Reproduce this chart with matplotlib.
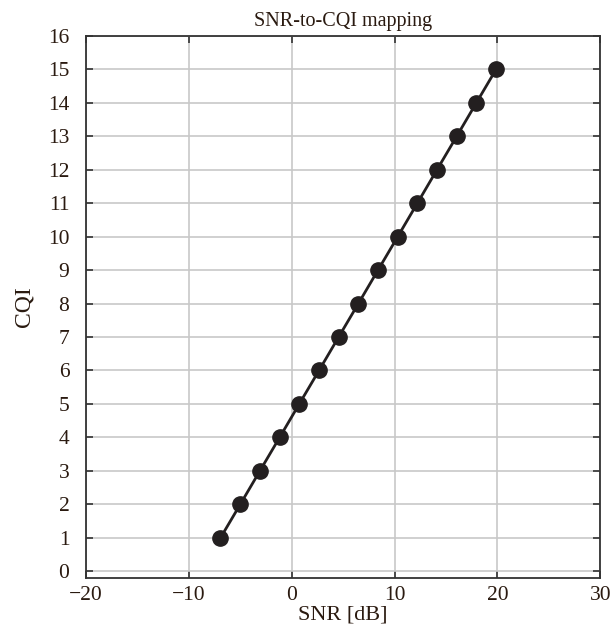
import matplotlib
matplotlib.use('Agg')
import matplotlib.pyplot as plt

# values
snr_db = [-6.93, -5.01, -3.10, -1.18, 0.73, 2.65, 4.56, 6.48,
          8.39, 10.31, 12.22, 14.13, 16.05, 17.96, 19.88]
cqi = [1, 2, 3, 4, 5, 6, 7, 8, 9, 10, 11, 12, 13, 14, 15]

x_ticks = [-20, -10, 0, 10, 20, 30]
x_tick_labels = ['\u221220', '\u221210', '0', '10', '20', '30']
y_ticks = list(range(0, 17))

plt.rcParams['font.family'] = ['Liberation Serif', 'DejaVu Serif']

fig = plt.figure(figsize=(6.15, 6.38), dpi=100)
ax = fig.add_axes([0.140, 0.094, 0.836, 0.850])

ax.plot(snr_db, cqi, color='#231f20', linewidth=2.0, marker='o',
        markersize=11, markerfacecolor='#231f20', markeredgecolor='#231f20',
        zorder=3)

ax.set_xlim(-20, 30)
ax.set_ylim(-0.2, 16)
ax.set_xticks(x_ticks)
ax.set_yticks(y_ticks)
ax.set_xticklabels(x_tick_labels)

ax.grid(True, color='#c8c8c8', linewidth=1.2, zorder=0)
ax.set_axisbelow(True)

for side in ['top', 'bottom', 'left', 'right']:
    ax.spines[side].set_linewidth(1.3)
    ax.spines[side].set_color('#333333')

ax.tick_params(which='major', direction='in', length=5, width=1.2,
               top=True, right=True, labelsize=15.5, colors='#333333',
               labelcolor='#2a1a10')
ax.tick_params(axis='y', pad=12)
ax.tick_params(axis='x', pad=6)

ax.set_xlabel('SNR [dB]', fontsize=16, color='#2a1a10', labelpad=0)
ax.set_ylabel('CQI', fontsize=17, color='#2a1a10', labelpad=10)
ax.set_title('SNR-to-CQI mapping', fontsize=14.5, color='#2a1a10', pad=7)

fig.savefig('out.png', dpi=100)
